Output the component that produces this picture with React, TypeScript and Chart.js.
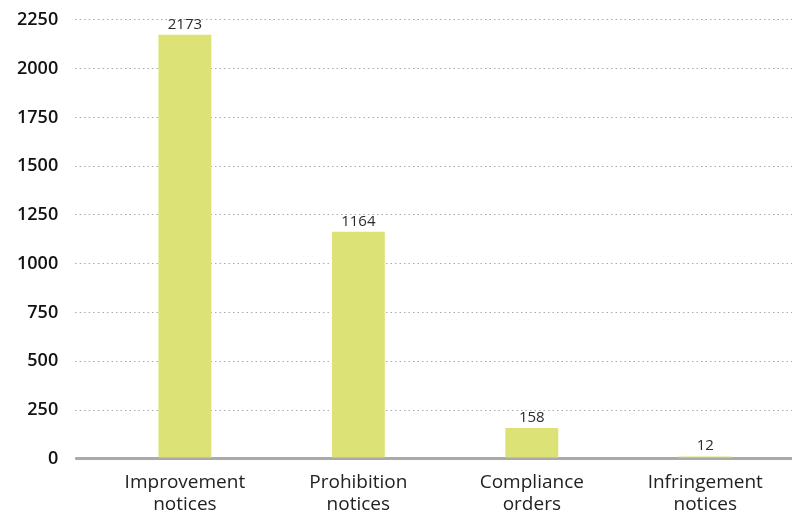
import React, { useEffect, useRef } from "react";
import { Chart, registerables } from "chart.js";

Chart.register(...registerables);

const categories: string[][] = [
  ["Improvement", "notices"],
  ["Prohibition", "notices"],
  ["Compliance", "orders"],
  ["Infringement", "notices"],
];
const values: number[] = [2173, 1164, 158, 12];
const yMax = 2250;
const yStep = 250;

const valueLabelPlugin = {
  id: "valueLabels",
  afterDatasetsDraw(chart: any) {
    const { ctx } = chart;
    const meta = chart.getDatasetMeta(0);
    ctx.save();
    ctx.font = "500 15px 'Open Sans'";
    ctx.fillStyle = "#2b2b2b";
    ctx.textAlign = "center";
    ctx.textBaseline = "bottom";
    meta.data.forEach((bar: any, i: number) => {
      ctx.fillText(String(values[i]), bar.x, bar.y - 3);
    });
    ctx.restore();
  },
};

const isZero = (ctx: any) => ctx.tick && ctx.tick.value === 0;

export default function App() {
  const ref = useRef<HTMLCanvasElement>(null);
  useEffect(() => {
    if (!ref.current) return;
    const chart = new Chart(ref.current, {
      type: "bar",
      data: {
        labels: categories,
        datasets: [
          {
            data: values,
            backgroundColor: "#dce275",
            barPercentage: 0.305,
            categoryPercentage: 1,
          },
        ],
      },
      options: {
        animation: false,
        responsive: false,
        maintainAspectRatio: false,
        layout: { padding: { top: 0, right: 3, left: 0, bottom: 0 } },
        plugins: { legend: { display: false }, tooltip: { enabled: false } },
        scales: {
          x: {
            grid: { display: false },
            border: { display: false },
            ticks: {
              color: "#222",
              font: { family: "'Open Sans'", size: 19, weight: 500 as any, lineHeight: 1.16 },
              padding: 5,
              maxRotation: 0,
              autoSkip: false,
            },
          },
          y: {
            min: 0,
            max: yMax,
            ticks: {
              stepSize: yStep,
              color: "#111",
              font: { family: "'Open Sans'", size: 18, weight: 600 as any },
              padding: 17,
              callback: (v: any) => String(v),
            },
            border: {
              display: false,
              dash: (ctx: any) => (isZero(ctx) ? [] : [1.5, 3]),
            },
            grid: {
              color: "#aaaaaa",
              lineWidth: (ctx: any) => (isZero(ctx) ? 3 : 1),
              tickLength: 23,
              tickColor: "#aaaaaa",
              tickWidth: (ctx: any) => (isZero(ctx) ? 3 : 1),
              tickBorderDash: (ctx: any) => (isZero(ctx) ? [] : [1.5, 3]),
            } as any,
          },
        },
      },
      plugins: [valueLabelPlugin],
    });
    return () => chart.destroy();
  }, []);
  return (
    <div style={{ position: "fixed", left: 0, top: -8, width: 795, height: 529, background: "#fff" }}>
      <canvas ref={ref} width={795} height={529} style={{ width: 795, height: 529, display: "block" }} />
    </div>
  );
}
